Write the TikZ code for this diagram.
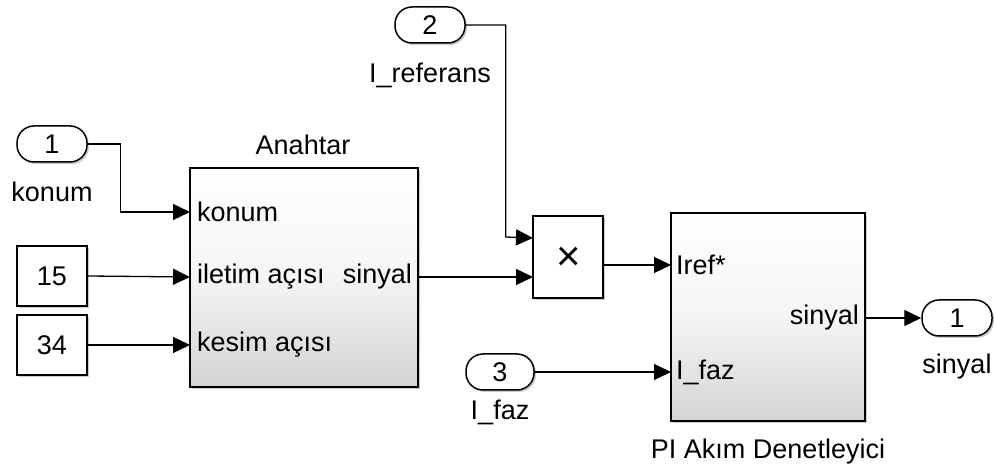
\documentclass[tikz,border=0pt]{standalone}
\usepackage{fontspec}
\setmainfont{Liberation Sans}
\usetikzlibrary{arrows.meta,shadows}
\begin{document}
\begin{tikzpicture}[x=1pt,y=1pt,
  font=\fontsize{27}{31}\selectfont,
  shd/.style={drop shadow={shadow xshift=2pt,shadow yshift=-2pt,fill=black!45,opacity=0.45}},
  pill/.style={draw,line width=1.5pt,rounded corners=17pt,minimum width=70pt,minimum height=36pt,inner sep=0pt,fill=white,shd},
  constbox/.style={draw,line width=1.5pt,minimum width=70pt,minimum height=60pt,inner sep=0pt,fill=white,shd},
  blockbox/.style={draw,line width=1.6pt,inner sep=0pt,top color=white,bottom color=black!17,middle color=white!96!black,shd},
  wire/.style={line width=1.3pt,-{Triangle[length=17pt,width=16pt]}},
  lbl/.style={inner sep=0pt}
]
\useasboundingbox (0,0) rectangle (994,470);

% blocks
\node[pill] (in1) at (52,326) {1};
\node[lbl] (in1l) at (52,278) {konum};
\node[constbox] (c15) at (52,194) {15};
\node[constbox] (c34) at (52,125) {34};

\node[blockbox,minimum width=228pt,minimum height=219pt] (anah) at (304,192.5) {};
\node[lbl] (anahl) at (303,325) {Anahtar};
\coordinate (a1) at (190,258);
\coordinate (a2) at (190,193);
\coordinate (a3) at (190,125);
\coordinate (aout) at (418,193);
\node[lbl,anchor=west] (p1) at (197,258) {konum};
\node[lbl,anchor=west] (p2) at (197,193) {iletim açısı};
\node[lbl,anchor=west] (p3) at (197,125) {kesim açısı};
\node[lbl,anchor=east] (p4) at (412,193) {sinyal};

\node[pill] (in2) at (430,445) {2};
\node[lbl] (in2l) at (430,395) {I\_referans};

\node[draw,line width=1.5pt,fill=white,minimum width=70pt,minimum height=82pt,inner sep=0pt,shd] (prod) at (568,213) {};
\node[lbl,font=\fontsize{42}{46}\selectfont] (prodx) at (569,211) {×};
\coordinate (m1) at (533,232);
\coordinate (m2) at (533,193);
\coordinate (mout) at (603,205);

\node[blockbox,minimum width=194pt,minimum height=208pt] (pi) at (768,153) {};
\node[lbl] (pil) at (768,18) {PI Akım Denetleyici};
\coordinate (q1) at (671,205);
\coordinate (q2) at (671,98);
\coordinate (qout) at (865,152);
\node[lbl,anchor=west] (r1) at (676,205) {Iref*};
\node[lbl,anchor=west] (r2) at (676,98) {I\_faz};
\node[lbl,anchor=east] (r3) at (859,152) {sinyal};

\node[pill,minimum width=68pt] (in3) at (500,98) {3};
\node[lbl] (in3l) at (500,58) {I\_faz};

\node[pill] (out1) at (957,152) {1};
\node[lbl] (out1l) at (957,103) {sinyal};

% connectors
\draw[wire] (in1.east) -- ++(33,0) |- (a1);
\draw[wire] (c15.east) -- (a2);
\draw[wire] (c34.east) -- (a3);
\draw[wire] (aout) -- (m2);
\draw[wire] (in2.east) -| ++(40,-212) -- (m1);
\draw[wire] (mout) -- (q1);
\draw[wire] (in3.east) -- (q2);
\draw[wire] (qout) -- (out1.west);
\end{tikzpicture}
\end{document}
